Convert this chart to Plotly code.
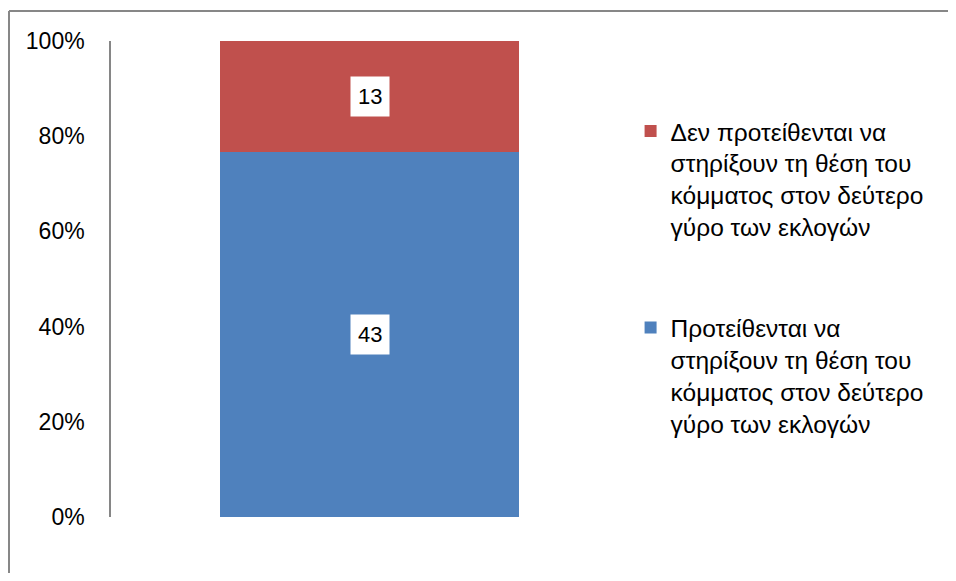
import plotly.graph_objects as go

categories = ["Κόμμα"]
series_names = [
    "Προτείθενται να<br>στηρίξουν τη θέση του<br>κόμματος στον δεύτερο<br>γύρο των εκλογών",
    "Δεν προτείθενται να<br>στηρίξουν τη θέση του<br>κόμματος στον δεύτερο<br>γύρο των εκλογών",
]
support = [43]
no_support = [13]
colors = ["#4F81BD", "#C0504D"]

FONT = "Liberation Sans, Arial, sans-serif"

fig = go.Figure()
for i, (name, vals) in enumerate(zip(series_names, [support, no_support])):
    fig.add_trace(go.Bar(x=categories, y=vals, name=name, marker_color=colors[i],
                         marker_line_width=0, legendgroup=str(i), legendrank=2 - i,
                         hoverinfo="y+name"))

# data labels in white boxes at segment midpoints (percent of total)
total = support[0] + no_support[0]
mids = [support[0] / 2 / total * 100, (support[0] + no_support[0] / 2) / total * 100]
for val, mid in zip([support[0], no_support[0]], mids):
    fig.add_annotation(x=categories[0], y=mid, text=str(val), showarrow=False,
                       bgcolor="white", borderpad=7, font=dict(size=22, color="black", family=FONT))

# figure is 940x565 so that, with the page's 8px body margin, it fills the window
W, H = 940, 565
l, r, t, b = 103, 320, 33, 56
pw, ph = W - l - r, H - t - b
# outer chart border: only the left and top edges are visible in the original
bx0, by1 = (1 - l) / pw, (H - b - 3) / ph
border = dict(color="#878787", width=2)
fig.add_shape(type="line", xref="paper", yref="paper", x0=bx0, x1=bx0,
              y0=-b / ph, y1=by1, line=border)
fig.add_shape(type="line", xref="paper", yref="paper", x0=bx0, x1=(W - l) / pw,
              y0=by1, y1=by1, line=border)

fig.update_layout(
    barmode="stack", barnorm="percent", bargap=0.42,
    width=W, height=H, margin=dict(l=l, r=r, t=t, b=b, autoexpand=False),
    plot_bgcolor="white", paper_bgcolor="white",
    font=dict(family=FONT, size=23, color="black"),
    showlegend=True,
    legend=dict(x=1.005, y=0.858, xanchor="left", yanchor="top", traceorder="grouped",
                tracegroupgap=66, valign="top", font=dict(size=24.5), itemwidth=30),
    xaxis=dict(showticklabels=False, showline=False, showgrid=False, zeroline=False),
    yaxis=dict(range=[0, 100], tickmode="linear", tick0=0, dtick=20, ticksuffix="%",
               showgrid=False, zeroline=False, showline=True, linecolor="#868686",
               linewidth=1.5, ticks="", ticklabelstandoff=20),
)

fig.write_html("out.html")
